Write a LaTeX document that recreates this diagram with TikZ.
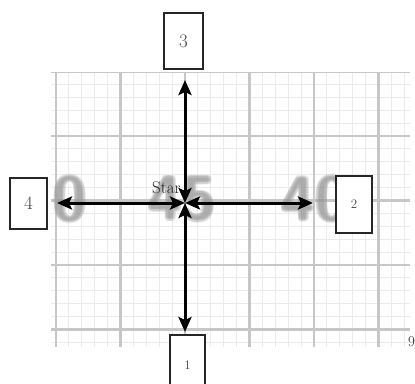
\documentclass[tikz,border=0pt]{standalone}
\usetikzlibrary{arrows.meta}
\newcommand{\blurtxt}[1]{%
  \rlap{\hspace{1.8pt}#1}\rlap{\hspace{-1.8pt}#1}%
  \rlap{\raisebox{1.8pt}{#1}}\rlap{\raisebox{-1.8pt}{#1}}%
  \rlap{\hspace{1.3pt}\raisebox{1.3pt}{#1}}\rlap{\hspace{-1.3pt}\raisebox{1.3pt}{#1}}%
  \rlap{\hspace{1.3pt}\raisebox{-1.3pt}{#1}}\rlap{\hspace{-1.3pt}\raisebox{-1.3pt}{#1}}%
  #1}
\begin{document}
\begin{tikzpicture}[x=1pt,y=-1pt,
  minorline/.style={draw=black!8, line width=1pt},
  majorline/.style={draw=black!22, line width=2.6pt},
  bignum/.style={text=black!40, font=\fontsize{62}{62}\sffamily\bfseries\selectfont, inner sep=0pt, opacity=0.16},
  box/.style={draw=black!85, line width=1.1pt, fill=white, inner sep=0pt, text=black!72},
  arr/.style={line width=3pt, draw=black,
    {Stealth[length=15pt,width=13pt,inset=3pt]}-{Stealth[length=15pt,width=13pt,inset=3pt]}},
  lbl/.style={font=\fontsize{17}{17}\selectfont, text=black!85, inner sep=0pt}]
\clip (0,0) rectangle (415,383);
\fill[white] (0,0) rectangle (415,383);
% background grid (blurred graph paper)
\begin{scope}
  \clip (51,72) rectangle (410,347);
  \foreach \i in {-5,...,30} {\draw[minorline] ({56+\i*12.9},72) -- ++(0,275);}
  \foreach \j in {0,...,22} {\draw[minorline] (51,{71.5+\j*12.9}) -- ++(359,0);}
  \foreach \k in {0,...,5} {\draw[majorline] ({56+\k*64.5},72) -- ++(0,275);}
  \foreach \k in {0,...,4} {\draw[majorline] (51,{71.5+\k*64.5}) -- ++(359,0);}
  \node[bignum] (n50) at (70,199) {\blurtxt{0}};
  \node[bignum] (n45) at (182,199) {\blurtxt{45}};
  \node[bignum] (n40) at (315,199) {\blurtxt{40}};
\end{scope}
\node[font=\fontsize{15}{15}\selectfont, text=black!85, anchor=base west, inner sep=0pt] (nine) at (408,346) {9};
% start label
\node[lbl, anchor=base west] (start) at (152,193) {Star};
% arrows
\coordinate (c) at (185,203);
\coordinate (e3) at (185,80);
\coordinate (e1) at (185,332);
\coordinate (e4) at (57,203);
\coordinate (e2) at (313,203);
\draw[arr] (c) -- (e3);
\draw[arr] (c) -- (e1);
\draw[arr] (c) -- (e4);
\draw[arr] (c) -- (e2);
% boxes
\node[box, minimum width=39pt, minimum height=56pt, font=\fontsize{19}{19}\selectfont] (box3) at (183.5,41) {\raisebox{-5pt}{3}};
\node[box, minimum width=37pt, minimum height=51pt, font=\fontsize{19}{19}\selectfont] (box4) at (28.5,203.5) {\raisebox{-7pt}{4}};
\node[box, minimum width=36pt, minimum height=57pt, font=\fontsize{13}{13}\selectfont] (box2) at (354,204.5) {\raisebox{-3pt}{2}};
\node[box, minimum width=35pt, minimum height=60pt, font=\fontsize{13}{13}\selectfont] (box1) at (187.5,365) {\raisebox{-3pt}{1}};
\end{tikzpicture}
\end{document}
